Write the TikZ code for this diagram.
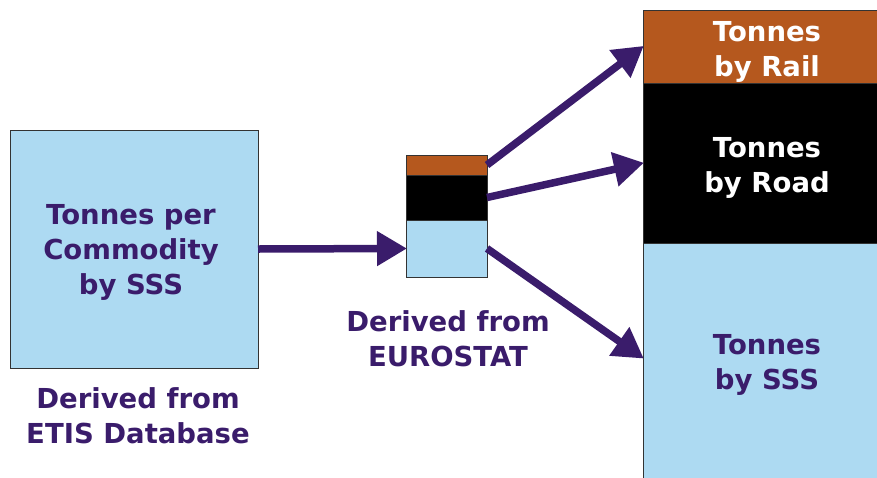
\documentclass[tikz,border=0pt]{standalone}
\usepackage{fontspec}
\setmainfont{DejaVu Sans}
\usetikzlibrary{arrows.meta}
\definecolor{lblue}{HTML}{ADDAF2}
\definecolor{rbrown}{HTML}{B5581E}
\definecolor{dpurple}{HTML}{3A1C6B}
\tikzset{
  box/.style={draw=black!80, line width=1pt, inner sep=0pt, outer sep=0pt, align=center, font=\bfseries\fontsize{27.5}{35}\selectfont},
  lbl/.style={align=center, text=dpurple, font=\bfseries\fontsize{27.5}{35}\selectfont},
  flow/.style={draw=dpurple, line width=7.5pt, -{Triangle[length=30pt,width=33pt]}, shorten >=-1pt}
}
\begin{document}
\begin{tikzpicture}[x=1pt,y=-1pt]
\useasboundingbox (0,0) rectangle (877,477);
\begin{scope}
\clip (0,0) rectangle (877,477);
% left box
\node[box, fill=lblue, minimum width=248pt, minimum height=238pt] (src) at (134,249) {};
\node[lbl] (srct) at (131,252) {Tonnes per\\Commodity\\by SSS};
% middle stack
\node[box, fill=rbrown, minimum width=81pt, minimum height=20pt] (m1) at (446.5,165) {};
\node[box, fill=black, minimum width=81pt, minimum height=45pt] (m2) at (446.5,197.5) {};
\node[box, fill=lblue, minimum width=81pt, minimum height=57pt] (m3) at (446.5,248.5) {};
% right stack
\node[box, fill=rbrown, minimum width=260pt, minimum height=73pt] (r1) at (773,46.5) {};
\node[box, fill=black, minimum width=260pt, minimum height=160pt] (r2) at (773,163) {};
\node[box, fill=lblue, minimum width=260pt, minimum height=250pt] (r3) at (773,368) {};
\node[lbl, text=white] (r1t) at (767,52) {Tonnes\\by Rail};
\node[lbl, text=white] (r2t) at (767,168) {Tonnes\\by Road};
\node[lbl] (r3t) at (767,365) {Tonnes\\by SSS};
\end{scope}
\coordinate (t3) at (643,358);
% labels
\node[lbl] (d1) at (138,416) {Derived from\\ETIS Database};
\node[lbl] (d2) at (448,339) {Derived from\\EUROSTAT};
% arrows
\draw[flow] (src.east) -- (m3.west);
\draw[flow] (m1.east) -- (r1.west);
\draw[flow] (m2.east) -- (r2.west);
\draw[flow] (m3.east) -- (t3);
\end{tikzpicture}
\end{document}
